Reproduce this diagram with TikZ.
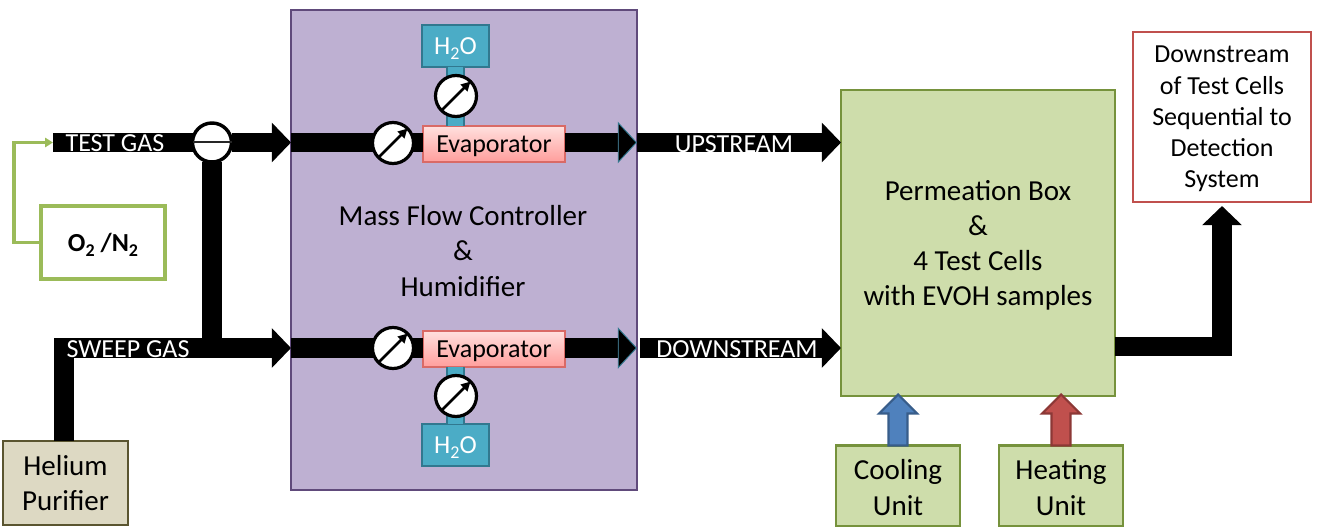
\documentclass[tikz,border=0pt]{standalone}
\usepackage{fontspec}
\setmainfont{Carlito}
\usetikzlibrary{arrows.meta,calc,shadows}
\definecolor{mfcfill}{HTML}{BEB0D2}
\definecolor{mfcline}{HTML}{604A7B}
\definecolor{grfill}{HTML}{CEDDAB}
\definecolor{grline}{HTML}{76923C}
\definecolor{o2line}{HTML}{9BBB59}
\definecolor{hefill}{HTML}{DDD9C3}
\definecolor{heline}{HTML}{5A5530}
\definecolor{wfill}{HTML}{4BACC6}
\definecolor{wline}{HTML}{31788F}
\definecolor{evline}{HTML}{D96A66}
\definecolor{evtop}{HTML}{FFE0DE}
\definecolor{evbot}{HTML}{FF9E9C}
\definecolor{redbox}{HTML}{C0504D}
\definecolor{redline}{HTML}{8C3836}
\definecolor{bluebox}{HTML}{4F81BD}
\definecolor{blueline}{HTML}{385D8A}
\newcommand{\lowsub}[1]{\raisebox{-3.4pt}{\fontsize{13.5}{13.5}\selectfont #1}}
\newcommand{\lowtext}[2]{\parbox{#1}{\centering\vspace*{3pt}#2}}
\tikzset{
  every node/.style={outer sep=0pt},
  sz/.style 2 args={minimum width=#1*0.75pt,minimum height=#2*0.75pt,inner sep=0pt,align=center},
  big/.style={font=\fontsize{21.75}{26.3}\selectfont},
  mid/.style={font=\fontsize{19.5}{23.4}\selectfont},
  mfcbox/.style={draw=mfcline,fill=mfcfill,line width=2pt,big},
  greenbox/.style={draw=grline,fill=grfill,line width=2.1pt,big},
  hebox/.style={draw=heline,fill=hefill,line width=2.1pt,big},
  o2box/.style={draw=o2line,fill=white,line width=2.3pt,font=\fontsize{19.5}{23}\selectfont\bfseries},
  outbox/.style={draw=redbox,fill=white,line width=2.2pt,mid},
  waterbox/.style={draw=wline,fill=wfill,line width=2.2pt,text=white,mid},
  evapbox/.style={draw=evline,line width=1.3pt,top color=evtop,bottom color=evbot,mid,
    drop shadow={shadow xshift=1pt,shadow yshift=-1pt,opacity=.35,fill=black}},
  flow/.style={line width=14.4pt,draw=black,-{Triangle[length=14.4pt,width=29pt]}},
  flowteal/.style={line width=14.4pt,draw=black,-{Triangle[length=14.4pt,width=31pt,fill=black,color=wline,line width=.7pt]}},
  pipe/.style={line width=14.4pt,draw=black},
  waterlink/.style={draw=wline,line width=1.6pt,double=wfill,double distance=11.5pt},
  gauge/.style={circle,draw=black,fill=white,line width=2.4pt,minimum size=41*0.75pt,inner sep=0pt},
  needle/.style={line width=2pt,draw=black,-{Triangle[length=7pt,width=7pt]}},
  valvec/.style={circle,draw=black,fill=white,line width=2.6pt,minimum size=39*0.75pt,inner sep=0pt},
  gaslabel/.style={text=white,inner sep=0pt,mid},
  greenlink/.style={draw=o2line,line width=2.3pt,-{Triangle[length=6pt,width=7pt]}},
}
\newcommand{\blockup}[4]{%
  \path[fill=#3,draw=#4,line width=1.6pt,line join=miter]
    ($(#1.north)+(-9.5,0)$) -- ++(0,-32) -- ++(-9.5,0)
    -- ($(#1.north |- #2.south)+(0,-1.5)$) -- ($(#1.north)+(19,-32)$) -- ++(-9.5,0)
    -- ($(#1.north)+(9.5,0)$) -- cycle;}
\begin{document}
\begin{tikzpicture}[x=0.75pt,y=-0.75pt]
\useasboundingbox (0,0) rectangle (1319,527);
% boxes
\node[mfcbox,sz={346}{480}] (mfc) at (464,250) {};
\node[big,align=center,inner sep=0pt] (mfct) at (463,251) {Mass Flow Controller\\\&\\Humidifier};
\node[greenbox,sz={274}{306}] (perm) at (978,243) {\lowtext{200pt}{Permeation Box\\\&\\4 Test Cells\\with EVOH samples}};
\node[greenbox,sz={124}{81},font=\fontsize{21.75}{27}\selectfont] (cool) at (898,486) {\lowtext{85pt}{Cooling\\Unit}};
\node[greenbox,sz={124}{81},font=\fontsize{21.75}{27}\selectfont] (heat) at (1061,486) {\lowtext{85pt}{Heating\\Unit}};
\node[hebox,sz={125}{84}] (he) at (65.5,483) {Helium\\Purifier};
\node[o2box,sz={124}{73},text height=17pt] (o2) at (103,242.5) {O\lowsub{2} /N\lowsub{2}};
\node[outbox,sz={178}{170}] (out) at (1222,117) {\lowtext{125pt}{Downstream\\of Test Cells\\Sequential to\\Detection\\System}};
\node[waterbox,sz={67}{42},text height=16.5pt] (wt) at (455.5,46) {H\lowsub{2}O};
\node[waterbox,sz={67}{42},text height=16.5pt] (wb) at (455.5,445) {H\lowsub{2}O};
\node[evapbox,sz={142}{36},text height=16.5pt] (et) at (494,144) {Evaporator};
\node[evapbox,sz={142}{36},text height=16.5pt] (eb) at (494,349) {Evaporator};
\coordinate (tstart) at (53,142.5);
\coordinate (sbend) at (64,348);
\coordinate (o2bend) at (14,242.5);
\coordinate (pout) at (1222,346.5);
% valve defined first, gas lines run out of it
\node[valvec] (valve) at (212,142.5) {};
% water links
\draw[waterlink] (wt.south) -- (et.north -| wt.south);
\draw[waterlink] (wb.north) -- (eb.south -| wb.north);
% gas lines
\draw[pipe] (tstart) -- (valve.west);
\draw[flow] (valve.east) -- (mfc.west |- valve);
\draw[pipe] (valve.south) -- (valve |- sbend);
\draw[flow,line join=miter] (he.north -| sbend) -- (sbend) -- (sbend -| mfc.west);
\draw[pipe] (mfc.west |- valve) -- (et.west |- valve);
\draw[pipe] (mfc.west |- sbend) -- (eb.west |- sbend);
\draw[flowteal] (et.east |- valve) -- (mfc.east |- valve);
\draw[flowteal] (eb.east |- sbend) -- (mfc.east |- sbend);
\draw[flow] (mfc.east |- valve) -- (perm.west |- valve);
\draw[flow] ($(mfc.east |- sbend)+(3,0)$) -- (perm.west |- sbend);
\draw[flow,line join=miter] (perm.east |- pout) -- (pout) -- ($(out.south)+(0,4)$);
% valve bar
\draw[line width=1.5pt,draw=black!85] (valve.west) -- (valve.east);
% gauges
\node[gauge] (g1) at (393,143) {};
\node[gauge] (g2) at (456,96) {};
\node[gauge] (g3) at (393,348) {};
\node[gauge] (g4) at (456,396) {};
\foreach \g in {g1,g2,g3,g4} \draw[needle] (\g.south west) -- (\g.north east);
% labels
\node[gaslabel] (ltest) at (115,143) {TEST GAS};
\node[gaslabel] (lsweep) at (128,349) {SWEEP GAS};
\node[gaslabel] (lup) at (734,144) {UPSTREAM};
\node[gaslabel] (ldown) at (737,349.5) {DOWNSTREAM};
% O2 feed
\draw[greenlink,line join=miter] (o2.west) -- (o2bend) |- (tstart);
% heat / cool arrows
\blockup{cool}{perm}{bluebox}{blueline}
\blockup{heat}{perm}{redbox}{redline}
\end{tikzpicture}
\end{document}
